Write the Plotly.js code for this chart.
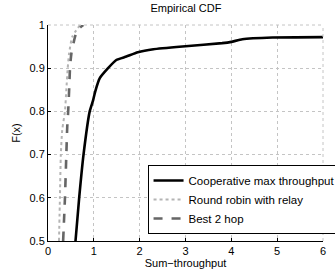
<!DOCTYPE html>
<html><head><meta charset="utf-8">
<script src="https://cdn.plot.ly/plotly-3.0.1.min.js"></script>
<style>body{margin:0;padding:0;background:#fff}#c{width:335px;height:271px}</style>
</head><body><div id="c"></div>
<script>
const coopX = [0.60,0.68,0.775,0.91,0.985,1.03,1.13,1.31,1.49,1.71,1.96,2.3,3.0,3.8,4.0,4.24,4.9,6.0];
const coopF = [0.5,0.6,0.7,0.8,0.826,0.846,0.877,0.9,0.919,0.927,0.937,0.944,0.951,0.958,0.961,0.967,0.971,0.972];
const rrX = [0.24,0.26,0.28,0.31,0.37,0.40,0.43,0.46,0.53,0.70];
const rrF = [0.5,0.6,0.7,0.757,0.8,0.85,0.9,0.934,0.973,1.0];
const b2X = [0.33,0.37,0.40,0.42,0.44,0.46,0.48,0.51,0.59,0.64,0.77];
const b2F = [0.5,0.6,0.7,0.765,0.8,0.846,0.9,0.934,0.973,0.988,1.0];
const names = ['Cooperative max throughput','Round robin with relay','Best 2 hop'];

const font = {family:'Liberation Sans, Arial, sans-serif', size:11, color:'#000'};
const traces = [
  {x:coopX, y:coopF, mode:'lines', name:names[0], line:{color:'#000', width:2.6, shape:'spline', smoothing:0.5}},
  {x:rrX, y:rrF, mode:'lines', name:names[1], line:{color:'#b4b4b4', width:2, dash:'dot', shape:'spline', smoothing:0.5}},
  {x:b2X, y:b2F, mode:'lines', name:names[2], line:{color:'#666', width:2.6, dash:'dash', shape:'spline', smoothing:0.5}}
];
const layout = {
  width:335, height:271,
  margin:{l:48, r:12, t:25, b:30, autoexpand:false},
  paper_bgcolor:'#fff', plot_bgcolor:'#fff',
  font:font,
  showlegend:true,
  title:{text:'Empirical CDF', x:0.555, xanchor:'center', y:0.985, yanchor:'top', font:{family:font.family, size:11}},
  xaxis:{range:[0,6], dtick:1, tick0:0, showline:true, linecolor:'#000', linewidth:1, mirror:false,
    ticks:'inside', ticklen:3, tickcolor:'#000', showgrid:true, gridcolor:'#c4c4c4', griddash:'dot', gridwidth:1,
    zeroline:false, title:{text:'Sum\u2212throughput', standoff:2, font:{size:11}}},
  yaxis:{range:[0.5,1], dtick:0.1, tick0:0.5, showline:true, linecolor:'#000', linewidth:1,
    ticks:'inside', ticklen:3, tickcolor:'#000', showgrid:true, gridcolor:'#c4c4c4', griddash:'dot', gridwidth:1,
    zeroline:false, title:{text:'F(x)', standoff:6, font:{size:11}}},
  legend:{x:0.362, y:0.352, xanchor:'left', yanchor:'top', bgcolor:'#fff', bordercolor:'#000', borderwidth:1,
    font:{family:font.family, size:11.5}, tracegroupgap:0, itemwidth:30},
  shapes:[
    {type:'line', xref:'paper', yref:'paper', x0:0, x1:1, y0:1, y1:1, line:{color:'#c4c4c4', width:1, dash:'dot'}},
    {type:'line', xref:'paper', yref:'paper', x0:1, x1:1, y0:0, y1:1, line:{color:'#c4c4c4', width:1, dash:'dot'}}
  ]
};
Plotly.newPlot('c', traces, layout, {displayModeBar:false, staticPlot:true});
</script></body></html>
